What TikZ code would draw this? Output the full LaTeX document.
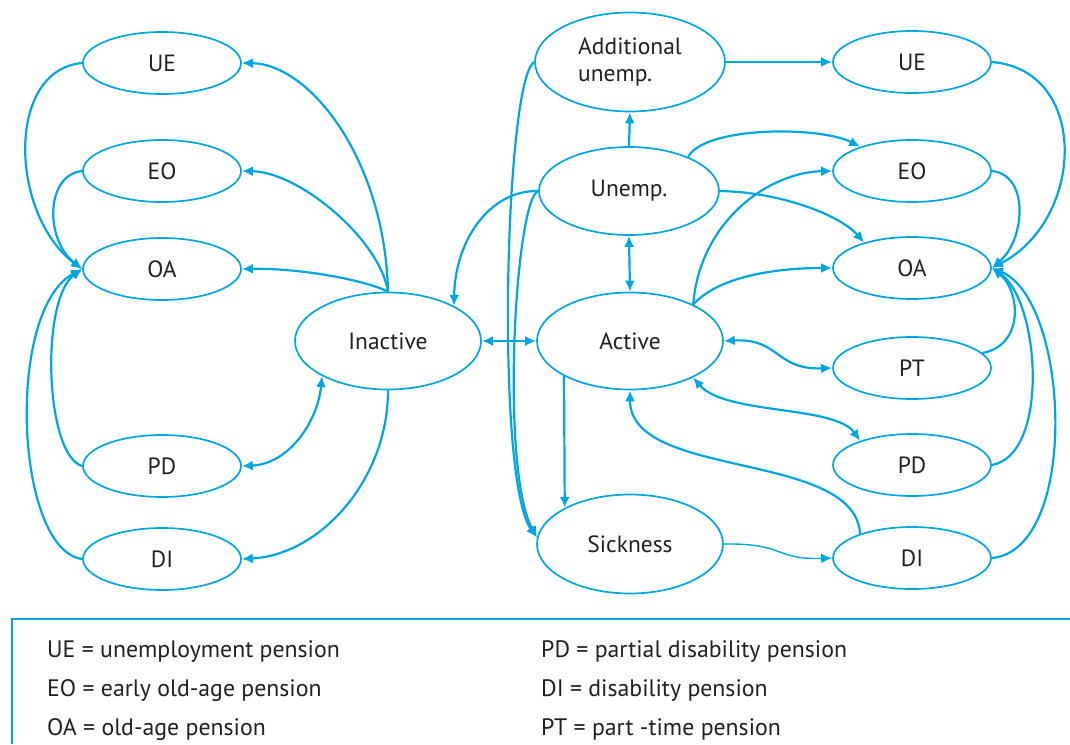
\documentclass[tikz,border=0pt]{standalone}
\usepackage{fontspec}
\setmainfont{PT Sans}
\usetikzlibrary{shapes.geometric,arrows.meta}
\definecolor{lineblue}{RGB}{0,166,226}
\definecolor{textgray}{RGB}{35,31,32}
\begin{document}
\begin{tikzpicture}[x=1pt,y=-1pt,
  state/.style={ellipse,draw=lineblue,line width=1.7pt,inner sep=0pt,
    minimum width=158pt,minimum height=62pt,text=textgray,
    font=\fontsize{23.5}{27}\selectfont},
  bigstate/.style={state,minimum width=186pt,minimum height=97pt},
  tip/.tip={Latex[length=11pt,width=10pt]},
  link/.style={draw=lineblue,line width=2.2pt,-tip},
  twoway/.style={link,tip-tip},
  legendtext/.style={anchor=base west,inner sep=0pt,text=textgray,
    font=\fontsize{23.8}{28}\selectfont}]
\useasboundingbox (0,0) rectangle (1070,744);

% left column of pension states
\node[state] (ueL) at (162,63) {UE};
\node[state] (eoL) at (162,171) {EO};
\node[state] (oaL) at (162,269) {OA};
\node[state] (pdL) at (162,466) {PD};
\node[state] (diL) at (162,559) {DI};

% central states
\node[bigstate] (ina) at (388,341) {Inactive};
\node[bigstate,minimum width=190pt,minimum height=99pt,align=left] (add) at (630,62) {Additional\\unemp.};
\node[bigstate,minimum width=180pt,minimum height=88pt] (une) at (629,191) {Unemp.};
\node[bigstate] (act) at (630,341) {Active};
\node[bigstate,minimum height=99pt] (sic) at (630,544) {Sickness};

% right column of pension states
\node[state] (ueR) at (912,62) {UE};
\node[state] (eoR) at (912,171) {EO};
\node[state] (oaR) at (912,268) {OA};
\node[state] (ptR) at (912,368) {PT};
\node[state] (pdR) at (912,465) {PD};
\node[state] (diR) at (912,558) {DI};

% transitions out of inactivity
\draw[link] (ina.north) .. controls (385,160) and (310,64) .. (ueL.east);
\draw[link] (ina.north) .. controls (380,240) and (300,172) .. (eoL.east);
\draw[link] (ina.north) .. controls (365,280) and (300,268) .. (oaL.east);
\draw[twoway] (ina.208) .. controls (318,420) and (290,464) .. (pdL.east);
\draw[link] (ina.south) .. controls (388,480) and (320,555) .. (diL.east);

% left pensions into old age
\draw[link] (ueL.west) .. controls (5,70) and (10,215) .. (oaL.west);
\draw[link] (eoL.west) .. controls (45,175) and (45,240) .. (oaL.west);
\draw[link] (pdL.west) .. controls (45,455) and (40,300) .. (oaL.west);
\draw[link] (diL.west) .. controls (15,550) and (5,310) .. (oaL.west);

% centre
\draw[twoway] (ina.east) -- (act.west);
\draw[link] (une.west) .. controls (490,190) and (455,240) .. (ina.28);
\draw[link] (add.west) .. controls (505,80) and (495,480) .. (sic.176);
\draw[link] (une.west) .. controls (515,200) and (500,470) .. (sic.176);
\draw[twoway] (une.south) -- (act.north);
\draw[link] (une.north) -- (add.south);
\draw[link] (add.east) -- (ueR.west);
\draw[link] (act.208.3) -- (sic.151.7);

% towards the right column
\draw[link] (une.30) .. controls (705,126) and (820,126) .. (eoR.155);
\draw[link] (une.east) .. controls (780,192) and (840,215) .. (oaR.152);
\draw[link] (act.30) .. controls (700,220) and (770,172) .. (eoR.west);
\draw[link] (act.30) .. controls (720,275) and (780,268) .. (oaR.west);
\draw[twoway] (act.east) .. controls (780,338) and (775,370) .. (ptR.west);
\draw[twoway] (act.330) .. controls (725,415) and (835,405) .. (pdR.155);
\draw[link] (diR.155) .. controls (855,450) and (630,480) .. (act.south);
\draw[link,line width=1.4pt] (sic.east) .. controls (785,543) and (775,560) .. (diR.west);

% right pensions into old age
\draw[link] (ueR.east) .. controls (1090,70) and (1085,220) .. (oaR.east);
\draw[link] (eoR.east) .. controls (1030,175) and (1025,240) .. (oaR.east);
\draw[link] (ptR.12) .. controls (1025,345) and (1020,290) .. (oaR.east);
\draw[link] (pdR.east) .. controls (1050,455) and (1040,300) .. (oaR.east);
\draw[link] (diR.east) .. controls (1080,550) and (1070,300) .. (oaR.east);

% legend frame and abbreviations
\draw[lineblue,line width=2pt] (1070,619) -- (12,619) -- (12,744);
\node[legendtext] (l1) at (47,657) {UE = unemployment pension};
\node[legendtext] (l2) at (47,696) {EO = early old-age pension};
\node[legendtext] (l3) at (47,735) {OA = old-age pension};
\node[legendtext] (l4) at (541,657) {PD = partial disability pension};
\node[legendtext] (l5) at (541,696) {DI = disability pension};
\node[legendtext] (l6) at (541,735) {PT = part -time pension};
\end{tikzpicture}
\end{document}
